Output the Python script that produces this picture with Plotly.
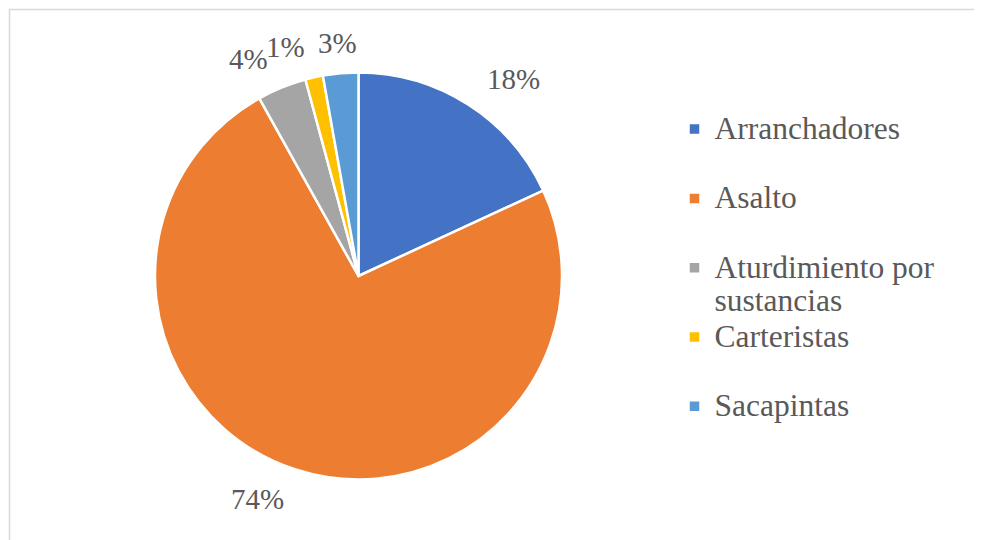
import math
import plotly.graph_objects as go

categorias = ["Arranchadores", "Asalto", "Aturdimiento por sustancias", "Carteristas", "Sacapintas"]
porcentajes = [18.1, 73.8, 3.9, 1.4, 2.8]
colores = ["#4472C4", "#ED7D31", "#A5A5A5", "#FFC000", "#5B9BD5"]

# the page has an 8px body margin, so the figure is a bit smaller than the window
W, H = 974, 532
TXT = "#595959"
FONT = "Liberation Serif, Times New Roman, serif"

# pie geometry, in figure pixels
CX, CY, R = 350.5, 268, 202
R_LAB = 1.16 * R


def legend_label(nombre):
    # every legend entry takes two lines, like the original
    partes = nombre.split(" por ")
    if len(partes) == 2:
        lineas = [partes[0] + " por", partes[1]]
    else:
        lineas = [nombre, " "]
    return "<br>".join(f"<span style='font-size:31.5px'>{l}</span>" for l in lineas)


etiquetas = [legend_label(c) for c in categorias]

fig = go.Figure()
fig.add_trace(go.Pie(
    labels=etiquetas,
    values=porcentajes,
    sort=False,
    direction="clockwise",
    rotation=0,
    marker=dict(colors=colores, line=dict(color="white", width=2.5)),
    textinfo="none",
    hoverinfo="label+percent",
    domain=dict(x=[(CX - R - 1.5) / W, (CX + R + 1.5) / W],
                y=[1 - (CY + R + 1.5) / H, 1 - (CY - R - 1.5) / H]),
))

# percentage labels outside the slices, placed at each slice's mid angle
total = sum(porcentajes)
anotaciones = []
acum = 0
for v in porcentajes:
    medio = (acum + v / 2) / total * 2 * math.pi
    acum += v
    s, c = math.sin(medio), math.cos(medio)
    px, py = CX + R_LAB * s, CY - R_LAB * c
    if abs(s) < 0.15:
        anchor = "center"
    else:
        anchor = "left" if s > 0 else "right"
    anotaciones.append(dict(
        x=px / W, y=1 - py / H, xref="paper", yref="paper",
        text=f"{v / total:.0%}", showarrow=False,
        xanchor=anchor, yanchor="middle",
        font=dict(family=FONT, size=29, color=TXT),
    ))

fig.update_layout(
    width=W, height=H,
    margin=dict(l=0, r=0, t=0, b=0, autoexpand=False),
    paper_bgcolor="white",
    plot_bgcolor="white",
    font=dict(family=FONT, color=TXT),
    showlegend=True,
    legend=dict(
        x=666.5 / W, y=1 - 98 / H,
        xanchor="left", yanchor="top",
        valign="top",
        font=dict(family=FONT, size=25.5, color=TXT),
        bgcolor="rgba(0,0,0,0)",
    ),
    annotations=anotaciones,
    shapes=[dict(
        type="rect", xref="paper", yref="paper",
        x0=1.5 / W, x1=1.05, y0=-0.05, y1=1 - 1.5 / H,
        line=dict(color="#D9D9D9", width=1.5),
        fillcolor="rgba(0,0,0,0)", layer="below",
    )],
)

fig.write_html("out.html")
